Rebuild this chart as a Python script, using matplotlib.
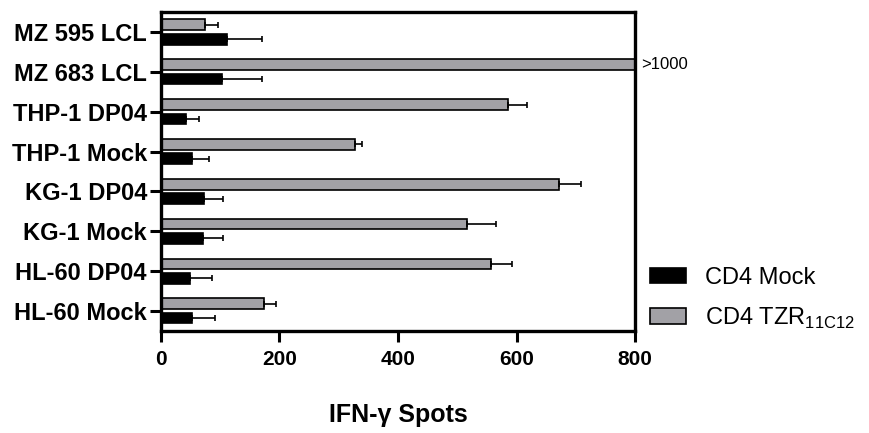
import numpy as np
import matplotlib
matplotlib.use("Agg")
import matplotlib.pyplot as plt

plt.rcParams["font.family"] = ["Liberation Sans", "DejaVu Sans"]

# Data (top to bottom)
CATEGORIES = ["MZ 595 LCL", "MZ 683 LCL", "THP-1 DP04", "THP-1 Mock",
              "KG-1 DP04", "KG-1 Mock", "HL-60 DP04", "HL-60 Mock"]
TZR_MEAN = [74, 1000, 586, 327, 672, 516, 557, 174]
TZR_ERR = [22, 0, 32, 12, 37, 49, 35, 20]
MOCK_MEAN = [111, 104, 43, 53, 73, 71, 50, 52]
MOCK_ERR = [60, 66, 21, 28, 32, 34, 37, 39]
XTICKS = [0, 200, 400, 600, 800]

COL_TZR = "#A2A1A6"
COL_MOCK = "#000000"

fig = plt.figure(figsize=(8.69, 4.33), dpi=100)
ax = fig.add_axes([0.185, 0.236, 0.546, 0.736])

y = np.arange(len(CATEGORIES))
off = 0.18
h = 0.27
n = len(CATEGORIES)

ax.barh(y - off, TZR_MEAN, height=h, color=COL_TZR, edgecolor="black",
        linewidth=1.2, label=r"CD4 TZR$_{\mathregular{11C12}}$", zorder=2)
ax.errorbar(TZR_MEAN, y - off, xerr=[[0] * n, TZR_ERR], fmt="none",
            ecolor="black", elinewidth=1.2, capsize=2.5, capthick=1.2, zorder=3)
ax.barh(y + off, MOCK_MEAN, height=h, color=COL_MOCK, edgecolor="black",
        linewidth=1.2, label="CD4 Mock", zorder=2)
ax.errorbar(MOCK_MEAN, y + off, xerr=[[0] * n, MOCK_ERR], fmt="none",
            ecolor="black", elinewidth=1.2, capsize=2.5, capthick=1.2, zorder=3)

ax.set_xlim(0, 800)
ax.set_ylim(n - 0.5, -0.5)
ax.set_yticks(y)
ax.set_yticklabels(CATEGORIES, fontsize=17, fontweight="bold")
ax.set_xticks(XTICKS)
ax.set_xticklabels([str(t) for t in XTICKS], fontsize=15, fontweight="bold")
ax.tick_params(axis="both", direction="out", length=8, width=2.2)
ax.tick_params(axis="y", pad=2)
ax.tick_params(axis="x", pad=6)
for s in ax.spines.values():
    s.set_linewidth(2.4)

ax.set_xlabel("IFN-γ Spots", fontsize=18, fontweight="bold", labelpad=24)

# off-scale marker
ax.annotate(">1000", xy=(800, 1 - off), xytext=(4, 0), textcoords="offset points",
            ha="left", va="center", fontsize=12, annotation_clip=False)

handles, labels = ax.get_legend_handles_labels()
leg = fig.legend(handles[::-1], labels[::-1], loc="center left",
                 bbox_to_anchor=(0.724, 0.31), frameon=False, fontsize=17,
                 handlelength=1.5, handleheight=0.65, handletextpad=0.8,
                 labelspacing=0.7)

fig.savefig("out.png", dpi=100)
